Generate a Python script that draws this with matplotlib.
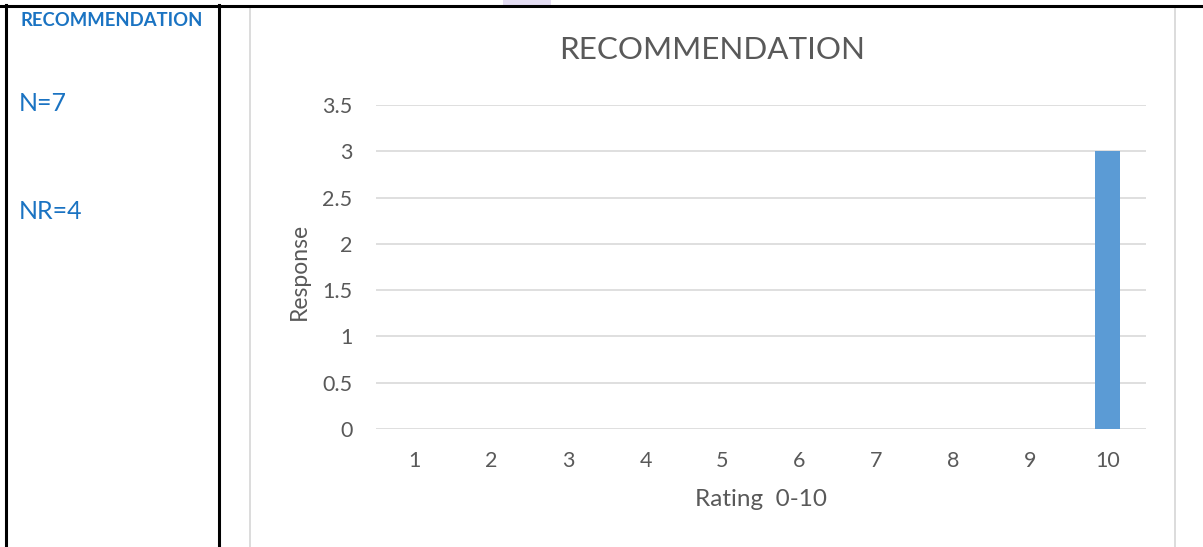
import matplotlib
matplotlib.use("Agg")
import matplotlib.pyplot as plt
from matplotlib.patches import Rectangle
from matplotlib.lines import Line2D

# ---- data ----
categories = ["1", "2", "3", "4", "5", "6", "7", "8", "9", "10"]
responses = [0, 0, 0, 0, 0, 0, 0, 0, 0, 3]
y_ticks = [0, 0.5, 1, 1.5, 2, 2.5, 3, 3.5]
y_tick_labels = ["0", "0.5", "1", "1.5", "2", "2.5", "3", "3.5"]
chart_title = "RECOMMENDATION"
x_label = "Rating  0-10"
y_label = "Response"
side_title = "RECOMMENDATION"
side_n = "N=7"
side_nr = "NR=4"

W, H = 1203, 547
plt.rcParams['font.family'] = ['Lato', 'DejaVu Sans']

fig = plt.figure(figsize=(W / 100, H / 100), dpi=100)
fig.patch.set_facecolor("white")


def fx(x):
    return x / W


def fy(y):
    return 1 - y / H


# table lines
fig.add_artist(Rectangle((fx(503), fy(6)), fx(48), 6 / H, transform=fig.transFigure,
                         facecolor="#e3dcf2", edgecolor="none", zorder=0))
fig.add_artist(Line2D([0, 1], [fy(5.5), fy(5.5)], transform=fig.transFigure, color="black", lw=2.2))
fig.add_artist(Line2D([fx(5.5), fx(5.5)], [fy(5), 0], transform=fig.transFigure, color="black", lw=2.2))
fig.add_artist(Line2D([fx(218.5), fx(218.5)], [fy(5), 0], transform=fig.transFigure, color="black", lw=2.2))

# chart frame
fig.add_artist(Rectangle((fx(249.5), fy(560)), fx(1175 - 249.5), (560 - 7) / H,
                         transform=fig.transFigure, facecolor="none", edgecolor="#d9d9d9",
                         lw=1.3, zorder=1))

# side texts
blue = "#1a73c2"
fig.text(fx(20), fy(20), side_title, color=blue, fontsize=13.3, fontweight="bold",
         va="center", ha="left")
fig.text(fx(19), fy(104), side_n, color=blue, fontsize=18, va="center", ha="left")
fig.text(fx(19), fy(212), side_nr, color=blue, fontsize=18, va="center", ha="left")

# axes
ax = fig.add_axes([fx(376), fy(429), fx(1146 - 376), (429 - 105) / H])
x = list(range(1, len(categories) + 1))
ax.bar(x, responses, width=0.33, color="#5b9bd5", zorder=3)
ax.set_xlim(0.5, len(categories) + 0.5)
ax.set_ylim(0, 3.5)
ax.set_yticks(y_ticks)
ax.set_yticklabels(y_tick_labels)
ax.set_xticks(x)
ax.set_xticklabels(categories)
ax.grid(axis="y", color="#d9d9d9", lw=1.2, zorder=0)
for s in ax.spines.values():
    s.set_visible(False)
ax.tick_params(axis="both", length=0, colors="#595959", labelsize=15.5)
ax.tick_params(axis="y", pad=17)
ax.tick_params(axis="x", pad=16)
ax.set_facecolor("none")

fig.text(fx(712), fy(50), chart_title, color="#595959", fontsize=22.6, ha="center", va="center")
fig.text(fx(761), fy(500), x_label, color="#595959", fontsize=17.5, ha="center", va="center")
fig.text(fx(299), fy(271), y_label, color="#595959", fontsize=16.5, ha="center", va="center",
         rotation=90)

fig.savefig("out.png", dpi=100)
